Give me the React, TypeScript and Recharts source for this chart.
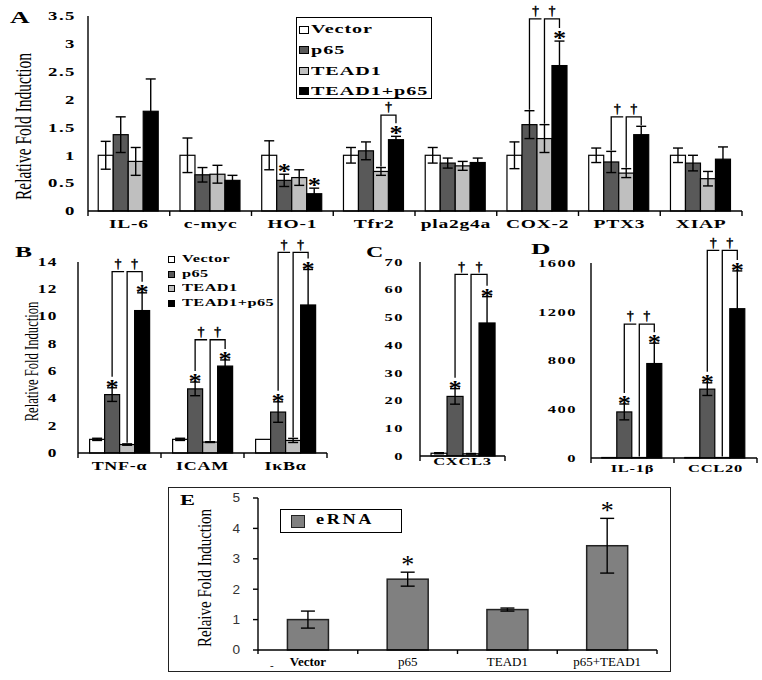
import React from 'react';
import { BarChart, Bar, XAxis, YAxis, ErrorBar, Legend } from 'recharts';

// ---------- Panel A data ----------
const genesA = ['IL-6', 'c-myc', 'HO-1', 'Tfr2', 'pla2g4a', 'COX-2', 'PTX3', 'XIAP'];
const vectorA = [1, 1, 1, 1, 1, 1, 1, 1];
const vectorErrA = [0.25, 0.31, 0.26, 0.14, 0.14, 0.24, 0.13, 0.13];
const p65A = [1.37, 0.65, 0.55, 1.08, 0.86, 1.55, 0.88, 0.86];
const p65ErrA = [0.32, 0.13, 0.11, 0.16, 0.09, 0.25, 0.19, 0.14];
const tead1A = [0.89, 0.66, 0.6, 0.71, 0.81, 1.3, 0.68, 0.58];
const tead1ErrA = [0.25, 0.16, 0.14, 0.07, 0.08, 0.25, 0.08, 0.13];
const comboA = [1.79, 0.55, 0.31, 1.28, 0.87, 2.61, 1.37, 0.93];
const comboErrA = [0.58, 0.09, 0.1, 0.06, 0.08, 0.44, 0.15, 0.22];
const p65StarA = [false, false, true, false, false, false, false, false];
const comboStarA = [false, false, true, true, false, true, false, false];
const bracketKindA = ['', '', '', 'tead', '', 'both', 'both', ''];
const bracketTopA = [0, 0, 0, 1.72, 0, 3.45, 1.69, 0];
const ticksA = [0, 0.5, 1, 1.5, 2, 2.5, 3, 3.5];

// ---------- Panel B data ----------
const genesB = ['TNF-α', 'ICAM', 'IκBα'];
const vectorB = [1.0, 1.0, 1.0];
const vectorErrB = [0.08, 0.08, 0];
const p65B = [4.28, 4.7, 3.0];
const p65ErrB = [0.5, 0.5, 0.75];
const tead1B = [0.62, 0.8, 0.92];
const tead1ErrB = [0.05, 0.03, 0.15];
const comboB = [10.44, 6.37, 10.85];
const comboErrB = [1.3, 0.45, 2.6];
const p65StarB = [true, true, true];
const comboStarB = [true, true, true];
const bracketKindB = ['both', 'both', 'both'];
const bracketTopB = [13.3, 8.3, 14.7];
const ticksB = [0, 2, 4, 6, 8, 10, 12, 14];

// ---------- Panel C data ----------
const genesC = ['CXCL3'];
const vectorC = [1.0];
const vectorErrC = [0.2];
const p65C = [21.5];
const p65ErrC = [2.8];
const tead1C = [0.8];
const tead1ErrC = [0.1];
const comboC = [48];
const comboErrC = [9.5];
const p65StarC = [true];
const comboStarC = [true];
const bracketKindC = ['both'];
const bracketTopC = [65.5];
const ticksC = [0, 10, 20, 30, 40, 50, 60, 70];

// ---------- Panel D data ----------
const genesD = ['IL-1β', 'CCL20'];
const vectorD = [4, 4];
const vectorErrD = [0, 0];
const p65D = [378, 565];
const p65ErrD = [65, 52];
const tead1D = [4, 4];
const tead1ErrD = [0, 0];
const comboD = [775, 1225];
const comboErrD = [167, 310];
const p65StarD = [true, true];
const comboStarD = [true, true];
const bracketKindD = ['both', 'both'];
const bracketTopD = [1098, 1704];
const ticksD = [0, 400, 800, 1200, 1600];

// ---------- Panel E data ----------
const groupsE = ['Vector', 'p65', 'TEAD1', 'p65+TEAD1'];
const eRNA = [1.0, 2.33, 1.33, 3.43];
const eRNAErr = [0.28, 0.23, 0.05, 0.9];
const eRNAStar = [false, true, false, true];
const ticksE = [0, 1, 2, 3, 4, 5];

// ---------- series ----------
const seriesNames = ['Vector', 'p65', 'TEAD1', 'TEAD1+p65'];
const seriesFills = ['#ffffff', '#595959', '#bfbfbf', '#000000'];
const seriesNamesE = ['eRNA'];
const seriesFillsE = ['#808080'];

const SERIF = '"Liberation Serif", "Times New Roman", serif';
const SANS = '"Liberation Sans", Arial, sans-serif';

function buildRows(
  cats: string[],
  vals: number[][],
  errs: number[][],
  stars: (boolean[] | null)[],
  bKind: string[] | null,
  bTop: number[] | null
) {
  return cats.map((c, i) => {
    const r: any = { name: c };
    vals.forEach((v, s) => {
      r['s' + s] = v[i];
      r['e' + s] = errs[s][i];
      r['t' + s] = stars[s] ? stars[s]![i] : false;
    });
    r.bk = bKind ? bKind[i] : '';
    r.bt = bTop ? bTop[i] : 0;
    return r;
  });
}

const rowsA = buildRows(
  genesA,
  [vectorA, p65A, tead1A, comboA],
  [vectorErrA, p65ErrA, tead1ErrA, comboErrA],
  [null, p65StarA, null, comboStarA],
  bracketKindA,
  bracketTopA
);
const rowsB = buildRows(
  genesB,
  [vectorB, p65B, tead1B, comboB],
  [vectorErrB, p65ErrB, tead1ErrB, comboErrB],
  [null, p65StarB, null, comboStarB],
  bracketKindB,
  bracketTopB
);
const rowsC = buildRows(
  genesC,
  [vectorC, p65C, tead1C, comboC],
  [vectorErrC, p65ErrC, tead1ErrC, comboErrC],
  [null, p65StarC, null, comboStarC],
  bracketKindC,
  bracketTopC
);
const rowsD = buildRows(
  genesD,
  [vectorD, p65D, tead1D, comboD],
  [vectorErrD, p65ErrD, tead1ErrD, comboErrD],
  [null, p65StarD, null, comboStarD],
  bracketKindD,
  bracketTopD
);
const rowsE = buildRows(groupsE, [eRNA], [eRNAErr], [eRNAStar], null, null);

function Star({ cx, cy, cfg }: any) {
  return (
    <text
      transform={`translate(${cx},${cy + cfg.starSize * cfg.starBase}) scale(${cfg.starSx},1)`}
      x={0}
      y={0}
      textAnchor="middle"
      fontSize={cfg.starSize}
      fontFamily={cfg.starFamily}
      fontWeight={cfg.starWeight}
      fill="#000"
    >
      *
    </text>
  );
}

function Dagger({ cx, cy, cfg }: any) {
  return (
    <text
      transform={`translate(${cx},${cy}) scale(${cfg.dagSx},1)`}
      x={0}
      y={0}
      dy="0.35em"
      textAnchor="middle"
      fontSize={cfg.dagSize}
      fontFamily={SERIF}
      fill="#000"
      stroke="#000"
      strokeWidth={0.5}
    >
      †
    </text>
  );
}

function makeShape(s: number, n: number, cfg: any) {
  return (props: any) => {
    const { x, y, width, height, payload, fill } = props;
    const v = payload['s' + s];
    const base = y + height;
    const k = v > 0 ? height / v : 0;
    const px = (val: number) => base - k * val;
    const els: any[] = [
      <rect
        key="r"
        x={x}
        y={y}
        width={width}
        height={Math.max(0, height)}
        fill={fill}
        stroke={cfg.barStrokeColor}
        strokeWidth={cfg.barStroke}
      />,
    ];
    if (payload['t' + s]) {
      els.push(<Star key="st" cx={x + width / 2} cy={px(v + payload['e' + s]) - cfg.starGap} cfg={cfg} />);
    }
    if (s === n - 1 && payload.bk && k > 0) {
      const w = width;
      const cC = x + w / 2;
      const tC = x - w / 2;
      const pC = x - 1.5 * w;
      const by = px(payload.bt);
      const clear = cfg.starGap + cfg.starHalf + 1;
      const legEnd = (si: number) =>
        px(payload['s' + si] + payload['e' + si]) - (payload['t' + si] ? clear : 1);
      let d = '';
      if (payload.bk === 'both') {
        d += `M${pC},${legEnd(1)} V${by} H${tC - 3} `;
        els.push(<Dagger key="d1" cx={(pC + tC - 3) / 2} cy={by - cfg.dagGap} cfg={cfg} />);
      }
      d += `M${tC},${legEnd(2)} V${by} H${cC} V${legEnd(3)}`;
      els.push(<Dagger key="d2" cx={(tC + cC) / 2} cy={by - cfg.dagGap} cfg={cfg} />);
      els.push(<path key="br" d={d} fill="none" stroke="#000" strokeWidth={cfg.brStroke} />);
    }
    return <g>{els}</g>;
  };
}

function XTick(props: any) {
  const { x, y, payload, index, visibleTicksCount, width, cfg } = props;
  const axisY = y - cfg.xGap;
  let half =
    payload && typeof payload.offset === 'number' && payload.offset > 0
      ? payload.offset
      : (width || 0) / (visibleTicksCount || 1) / 2;
  const bold = cfg.xBold ? (typeof cfg.xBold === 'function' ? cfg.xBold(index) : true) : false;
  return (
    <g>
      <line x1={x - half} x2={x - half} y1={axisY} y2={axisY + cfg.xTickLen} stroke="#000" strokeWidth={cfg.axisStroke} />
      {index === visibleTicksCount - 1 ? (
        <line x1={x + half} x2={x + half} y1={axisY} y2={axisY + cfg.xTickLen} stroke="#000" strokeWidth={cfg.axisStroke} />
      ) : null}
      {cfg.dashFirst && index === 0 ? (
        <text x={x - cfg.dashFirst} y={y + 12} fontSize={11} fontFamily={SERIF} fill="#000" textAnchor="middle">
          -
        </text>
      ) : null}
      <text
        transform={`translate(${x + (cfg.xShift && index === 0 ? cfg.xShift : 0)},${y}) scale(${cfg.sx},1)`}
        x={0}
        y={0}
        dy="0.71em"
        textAnchor="middle"
        fontSize={cfg.xFont}
        fontWeight={bold ? 'bold' : 'normal'}
        fontFamily={SERIF}
        letterSpacing={cfg.xLs}
        fill="#000"
      >
        {payload.value}
      </text>
    </g>
  );
}

function YTick(props: any) {
  const { x, y, payload, cfg } = props;
  return (
    <text
      transform={`translate(${x},${y}) scale(${cfg.ySx},1)`}
      x={0}
      y={0}
      dy="0.34em"
      textAnchor="end"
      fontSize={cfg.tickFont}
      fontWeight={cfg.tickBold ? 'bold' : 'normal'}
      fontFamily={cfg.tickFamily}
      letterSpacing={cfg.tickLs}
      fill={cfg.tickFill}
    >
      {String(payload.value)}
    </text>
  );
}

function makeYLabel(cfg: any) {
  return (props: any) => {
    const vb = props.viewBox || { x: 0, y: 0, width: 0, height: 0 };
    const cx = vb.x + cfg.yl.x;
    const cy = vb.y + vb.height / 2 + cfg.yl.dy;
    return (
      <text
        transform={`translate(${cx},${cy}) rotate(-90) scale(1,${cfg.yl.sx})`}
        x={0}
        y={0}
        textAnchor="middle"
        dominantBaseline="central"
        fontSize={cfg.yl.size}
        fontFamily={SERIF}
        fill="#000"
      >
        {cfg.yl.text}
      </text>
    );
  };
}

function LegendBox({ names, fills, cfg }: any) {
  return (
    <div
      style={{
        position: 'relative',
        width: cfg.w,
        height: cfg.h,
        boxSizing: 'border-box',
        border: cfg.border,
        background: cfg.border === 'none' ? 'transparent' : '#fff',
      }}
    >
      {names.map((nm: string, i: number) => {
        const cy = cfg.row0 + i * cfg.rowStep;
        return (
          <div key={nm} style={{ position: 'absolute', left: 0, top: 0 }}>
            <div
              style={{
                position: 'absolute',
                left: cfg.swX,
                top: cy - cfg.swH / 2,
                width: cfg.swW,
                height: cfg.swH,
                boxSizing: 'border-box',
                background: fills[i],
                border: cfg.swBorder,
              }}
            />
            <div
              style={{
                position: 'absolute',
                left: cfg.txX,
                top: cy - cfg.font * 0.62,
                whiteSpace: 'nowrap',
                fontFamily: SERIF,
                fontWeight: 'bold',
                fontSize: cfg.font,
                lineHeight: 1.2 + '',
                letterSpacing: cfg.ls,
                transform: `scaleX(${cfg.sx})`,
                transformOrigin: 'left center',
                color: '#000',
              }}
            >
              {nm}
            </div>
          </div>
        );
      })}
    </div>
  );
}

function Panel({ rows, names, fills, cfg, legend }: any) {
  const n = names.length;
  return (
    <div style={{ position: 'absolute', left: cfg.left, top: cfg.top }}>
      <BarChart
        width={cfg.width}
        height={cfg.height}
        data={rows}
        margin={cfg.margin}
        barCategoryGap={cfg.catGap}
        barGap={0}
        style={{ overflow: 'visible' }}
      >
        <XAxis
          dataKey="name"
          height={cfg.xHeight}
          interval={0}
          tickLine={false}
          tickSize={0}
          tickMargin={cfg.xGap}
          axisLine={{ stroke: '#000', strokeWidth: cfg.axisStroke }}
          tick={(p: any) => <XTick {...p} cfg={cfg} />}
        />
        <YAxis
          width={cfg.yWidth}
          domain={cfg.domain}
          ticks={cfg.ticks}
          interval={0}
          allowDataOverflow={false}
          tickLine={cfg.yTickLen > 0 ? { stroke: '#000', strokeWidth: cfg.axisStroke } : false}
          tickSize={cfg.yTickLen}
          tickMargin={cfg.yGap}
          axisLine={{ stroke: '#000', strokeWidth: cfg.axisStroke }}
          tick={(p: any) => <YTick {...p} cfg={cfg} />}
          label={makeYLabel(cfg)}
        />
        {legend ? (
          <Legend
            layout="vertical"
            align="center"
            verticalAlign="middle"
            wrapperStyle={{ left: legend.left, top: legend.top, width: legend.w, height: legend.h }}
            content={() => <LegendBox names={names} fills={fills} cfg={legend} />}
          />
        ) : null}
        {names.map((nm: string, s: number) => (
          <Bar
            key={nm}
            dataKey={'s' + s}
            name={nm}
            fill={fills[s]}
            isAnimationActive={false}
            shape={makeShape(s, n, cfg)}
          >
            <ErrorBar
              dataKey={'e' + s}
              direction="y"
              width={cfg.errHalf}
              stroke="#000"
              strokeWidth={cfg.errStroke}
              isAnimationActive={false}
            />
          </Bar>
        ))}
      </BarChart>
    </div>
  );
}

const common = {
  barStroke: 1.2,
  barStrokeColor: '#000',
  axisStroke: 1.4,
  errStroke: 1.4,
  brStroke: 1.3,
  errHalf: 5,
  starFamily: SERIF,
  starWeight: 'bold',
  starSize: 22,
  starBase: 0.5,
  starSx: 1.2,
  starGap: 7,
  starHalf: 5,
  dagGap: 8,
  dagSize: 12,
  dagSx: 1.1,
  sx: 1.5,
  ySx: 1.5,
  tickBold: true,
  tickFamily: SERIF,
  tickFill: '#000',
  tickLs: 1,
  xTickLen: 5,
  xBold: true,
  xLs: 0.5,
  yTickLen: 0,
};

const cfgA = {
  ...common,
  left: 0,
  top: 0,
  width: 762,
  height: 240,
  margin: { top: 16, right: 20, left: 0, bottom: 0 },
  yWidth: 88,
  xHeight: 29,
  domain: [0, 3.5],
  ticks: ticksA,
  catGap: '12.5%',
  tickFont: 12.5,
  xFont: 13,
  xGap: 8,
  yGap: 12,
  yl: { text: 'Relative Fold Induction', x: 23, dy: 13, size: 15.5, sx: 1.55 },
};
const legendA = {
  left: 296, top: 17, w: 136, h: 82, border: '1.5px solid #000',
  row0: 11.5, rowStep: 20.6, swX: 2, swW: 10, swH: 8, swBorder: '1px solid #000',
  txX: 14, font: 13, sx: 1.55, ls: 0.6,
};

const cfgB = {
  ...common,
  left: 0,
  top: 228,
  width: 345,
  height: 252,
  margin: { top: 34, right: 18, left: 0, bottom: 0 },
  yWidth: 78,
  xHeight: 27,
  domain: [0, 14],
  ticks: ticksB,
  catGap: '14%',
  tickFont: 11.5,
  xFont: 12,
  xGap: 8.5,
  yGap: 20,
  starGap: 5,
  yl: { text: 'Relative Fold Induction', x: 31, dy: 4, size: 12.6, sx: 1.55 },
};
const legendB = {
  left: 166, top: 24, w: 130, h: 60, border: 'none',
  row0: 7.5, rowStep: 14.6, swX: 2, swW: 7, swH: 7, swBorder: '1px solid #000',
  txX: 15.5, font: 10.5, sx: 1.55, ls: 0.3,
};

const cfgC = {
  ...common,
  left: 345,
  top: 228,
  width: 175,
  height: 252,
  margin: { top: 34, right: 15, left: 0, bottom: 0 },
  yWidth: 75,
  xHeight: 24,
  domain: [0, 70],
  ticks: ticksC,
  catGap: '13%',
  tickFont: 11,
  xFont: 11,
  xGap: 1,
  yGap: 16,
  starGap: 5,
  yl: null as any,
};

const cfgD = {
  ...common,
  left: 520,
  top: 228,
  width: 242,
  height: 252,
  margin: { top: 35, right: 5, left: 0, bottom: 0 },
  yWidth: 71,
  xHeight: 22,
  domain: [0, 1600],
  ticks: ticksD,
  catGap: '13%',
  tickFont: 11,
  xFont: 11,
  xGap: 6.5,
  yGap: 14,
  starGap: 5,
  yl: null as any,
};

const cfgE = {
  ...common,
  left: 169,
  top: 488,
  width: 501,
  height: 183,
  margin: { top: 10, right: 13, left: 0, bottom: 0 },
  yWidth: 89,
  xHeight: 21,
  domain: [0, 5],
  ticks: ticksE,
  catGap: '29.5%',
  barStrokeColor: '#222',
  barStroke: 1.5,
  tickFont: 13,
  tickBold: false,
  tickFamily: SANS,
  tickFill: '#333',
  tickLs: 0,
  ySx: 1.05,
  sx: 1,
  xFont: 13,
  xGap: 7,
  xLs: 0,
  xBold: (i: number) => i === 0,
  xTickLen: 4,
  yTickLen: 5,
  yGap: 13,
  errHalf: 7,
  starFamily: SERIF,
  starWeight: 'normal',
  starSize: 26,
  starSx: 1,
  starGap: 12,
  dashFirst: 36,
  yl: { text: 'Relaive Fold Induction', x: 36, dy: 4, size: 15, sx: 1.25 },
};
const legendE = {
  left: 111, top: 21, w: 122, h: 24, border: '1.2px solid #000',
  row0: 11, rowStep: 20, swX: 10, swW: 14, swH: 13, swBorder: '1.2px solid #222',
  txX: 35, font: 14, sx: 1.3, ls: 2,
};

function withYLabel(cfg: any) {
  if (cfg.yl) return cfg;
  return { ...cfg, yl: { text: '', x: 0, dy: 0, size: 1, sx: 1 } };
}

export default function App() {
  return (
    <div
      style={{
        position: 'absolute',
        left: 0,
        top: 0,
        width: 762,
        height: 680,
        background: '#fff',
        overflow: 'hidden',
      }}
    >
      <Panel rows={rowsA} names={seriesNames} fills={seriesFills} cfg={cfgA} legend={legendA} />
      <Panel rows={rowsB} names={seriesNames} fills={seriesFills} cfg={cfgB} legend={legendB} />
      <Panel rows={rowsC} names={seriesNames} fills={seriesFills} cfg={withYLabel(cfgC)} />
      <Panel rows={rowsD} names={seriesNames} fills={seriesFills} cfg={withYLabel(cfgD)} />
      <div
        style={{
          position: 'absolute',
          left: 168,
          top: 487,
          width: 503,
          height: 185,
          boxSizing: 'border-box',
          border: '1.5px solid #222',
        }}
      />
      <Panel rows={rowsE} names={seriesNamesE} fills={seriesFillsE} cfg={cfgE} legend={legendE} />
      <svg
        width={762}
        height={680}
        style={{ position: 'absolute', left: 0, top: 0, pointerEvents: 'none' }}
      >
        {[
          { t: 'A', x: 10, y: 23, s: 16, sx: 1.7 },
          { t: 'B', x: 15, y: 257, s: 15, sx: 1.7 },
          { t: 'C', x: 366, y: 257, s: 15, sx: 1.6 },
          { t: 'D', x: 531, y: 254, s: 15, sx: 1.8 },
          { t: 'E', x: 180, y: 505, s: 15, sx: 1.5 },
        ].map((l) => (
          <text
            key={l.t}
            transform={`translate(${l.x},${l.y}) scale(${l.sx},1)`}
            x={0}
            y={0}
            fontSize={l.s}
            fontWeight="bold"
            fontFamily={SERIF}
            fill="#000"
          >
            {l.t}
          </text>
        ))}
      </svg>
    </div>
  );
}
